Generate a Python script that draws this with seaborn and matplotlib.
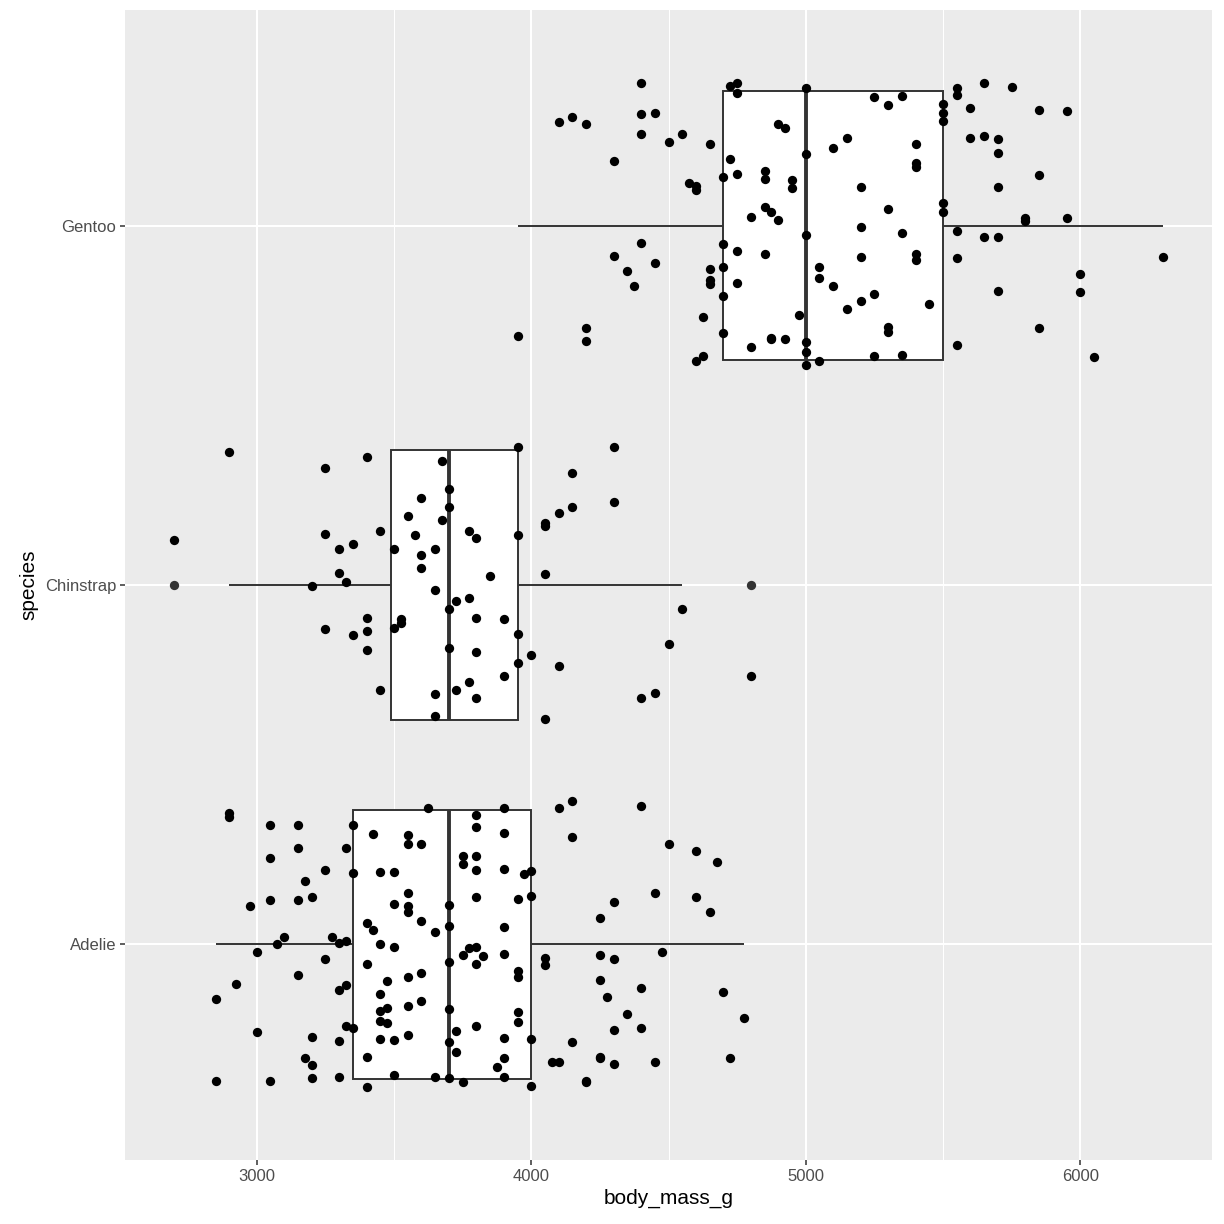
import numpy as np
import pandas as pd
import matplotlib
matplotlib.use("Agg")
import matplotlib.pyplot as plt
from matplotlib.ticker import MultipleLocator
import seaborn as sns

species_order = ["Gentoo", "Chinstrap", "Adelie"]

gentoo_mass = [
    4400, 4100, 4150, 4200, 4400, 4450, 4400, 4300, 4500, 4550,
    4650, 4725, 4750, 4750, 5000, 4725, 4700, 4750, 4575, 4600,
    4600, 4900, 4925, 5000, 4850, 4850, 4950, 4950, 4850, 4875,
    4800, 4900, 5100, 5250, 5300, 5350, 5500, 5500, 5500, 5550,
    5550, 5650, 5750, 5600, 5850, 5950, 5150, 5400, 5400, 5400,
    5600, 5650, 5700, 5700, 5850, 5700, 5200, 5300, 5500, 5500,
    5800, 5800, 5950, 4400, 4300, 4350, 4450, 4375, 3950, 4200,
    4200, 4700, 4750, 4850, 5000, 4650, 4700, 4650, 4650, 4750,
    4700, 4625, 4700, 4625, 4600, 4800, 4875, 4875, 4925, 4975,
    5000, 5000, 5000, 5050, 5050, 5050, 5100, 5200, 5350, 5200,
    5400, 5400, 5250, 5200, 5150, 5450, 5300, 5300, 5250, 5350,
    5550, 5650, 5700, 5550, 6300, 6000, 5700, 6000, 5850, 5550,
    6050,
]
gentoo_jitter = [
    -0.396, -0.289, -0.301, -0.283, -0.312, -0.313, -0.256, -0.179, -0.232, -0.254,
    -0.226, -0.388, -0.398, -0.368, -0.383, -0.186, -0.135, -0.145, -0.118, -0.111,
    -0.098, -0.284, -0.273, -0.199, -0.151, -0.129, -0.126, -0.105, -0.053, -0.037,
    -0.024, -0.016, -0.215, -0.359, -0.335, -0.360, -0.338, -0.313, -0.291, -0.384,
    -0.363, -0.398, -0.387, -0.326, -0.322, -0.319, -0.244, -0.226, -0.173, -0.163,
    -0.243, -0.250, -0.241, -0.201, -0.140, -0.107, -0.107, -0.045, -0.063, -0.038,
    -0.022, -0.012, -0.020, 0.048, 0.085, 0.125, 0.105, 0.168, 0.307, 0.284,
    0.321, 0.051, 0.071, 0.079, 0.027, 0.121, 0.116, 0.151, 0.163, 0.161,
    0.195, 0.254, 0.299, 0.362, 0.377, 0.338, 0.313, 0.316, 0.315, 0.249,
    0.324, 0.351, 0.387, 0.376, 0.116, 0.147, 0.167, 0.003, 0.021, 0.087,
    0.079, 0.097, 0.190, 0.211, 0.231, 0.218, 0.282, 0.296, 0.363, 0.360,
    0.016, 0.032, 0.032, 0.090, 0.086, 0.134, 0.182, 0.185, 0.286, 0.331,
    0.366,
]

chinstrap_mass = [
    2900, 2700, 3250, 3400, 3250, 3300, 3350, 3450, 3300, 3325,
    3200, 3250, 3350, 3400, 3400, 3400, 3450, 3500, 3675, 3700,
    3600, 3700, 3550, 3675, 3575, 3650, 3600, 3600, 3650, 3725,
    3700, 3525, 3525, 3500, 3700, 3650, 3650, 3725, 3950, 4300,
    4150, 4300, 4150, 4100, 4050, 4050, 3775, 3800, 3950, 3850,
    4050, 3775, 3800, 3900, 3950, 3800, 4000, 3950, 4100, 3900,
    3775, 3800, 4050, 4550, 4500, 4450, 4400, 4800,
]
chinstrap_jitter = [
    -0.371, -0.126, -0.326, -0.357, -0.143, -0.101, -0.114, -0.149, -0.033, -0.009,
    0.002, 0.123, 0.138, 0.092, 0.127, 0.181, 0.292, -0.100, -0.344, -0.268,
    -0.241, -0.218, -0.192, -0.181, -0.139, -0.100, -0.084, -0.047, 0.013, 0.045,
    0.066, 0.094, 0.106, 0.119, 0.174, 0.303, 0.365, 0.293, -0.385, -0.384,
    -0.312, -0.230, -0.218, -0.200, -0.172, -0.165, -0.151, -0.130, -0.138, -0.025,
    -0.031, 0.036, 0.093, 0.095, 0.137, 0.186, 0.196, 0.217, 0.226, 0.252,
    0.271, 0.315, 0.374, 0.067, 0.164, 0.301, 0.314, 0.252,
]

adelie_mass = [
    2900, 2900, 3050, 3150, 3350, 3150, 3325, 3050, 3250, 3175,
    2975, 3050, 3150, 3200, 3350, 3425, 3550, 3550, 3600, 3625,
    3450, 3500, 3550, 3500, 3550, 3550, 3600, 3650, 3700, 3700,
    3400, 3425, 3750, 3750, 3100, 3075, 3275, 3300, 3325, 3450,
    3500, 3900, 3800, 3800, 3900, 4100, 4150, 4400, 4150, 4500,
    4600, 4675, 3800, 3800, 3900, 3975, 4000, 3800, 3950, 4000,
    3900, 4300, 4250, 4450, 4600, 4650, 3775, 3800, 3000, 3250,
    3150, 2925, 2850, 3325, 3300, 3000, 3200, 3300, 3325, 3350,
    3175, 3200, 2850, 3050, 3200, 3300, 3400, 3400, 3475, 3550,
    3600, 3450, 3475, 3450, 3550, 3600, 3450, 3475, 3450, 3500,
    3550, 3400, 3500, 3650, 3700, 3700, 3750, 3700, 3725, 3700,
    3725, 3750, 3825, 3800, 3900, 3950, 3950, 3950, 3950, 3800,
    3900, 4000, 3900, 3875, 3900, 4000, 4050, 4050, 4250, 4300,
    4475, 4250, 4400, 4700, 4275, 4350, 4775, 4300, 4400, 4150,
    4075, 4100, 4250, 4250, 4300, 4450, 4725, 4200, 4200,
]
adelie_jitter = [
    -0.366, -0.355, -0.333, -0.333, -0.333, -0.269, -0.269, -0.241, -0.206, -0.177,
    -0.108, -0.124, -0.124, -0.133, -0.198, -0.308, -0.304, -0.278, -0.278, -0.379,
    -0.201, -0.202, -0.143, -0.111, -0.106, -0.090, -0.064, -0.035, -0.110, -0.050,
    -0.059, -0.041, -0.245, -0.224, -0.021, -0.001, -0.021, -0.004, -0.010, -0.001,
    0.006, -0.379, -0.360, -0.328, -0.310, -0.380, -0.398, -0.386, -0.298, -0.280,
    -0.260, -0.228, -0.245, -0.206, -0.211, -0.195, -0.204, -0.131, -0.127, -0.136,
    -0.048, -0.118, -0.073, -0.142, -0.131, -0.091, 0.011, 0.007, 0.022, 0.042,
    0.086, 0.111, 0.151, 0.112, 0.127, 0.245, 0.257, 0.268, 0.228, 0.234,
    0.316, 0.337, 0.379, 0.381, 0.373, 0.368, 0.397, 0.054, 0.102, 0.092,
    0.079, 0.138, 0.176, 0.186, 0.171, 0.158, 0.212, 0.220, 0.262, 0.265,
    0.252, 0.313, 0.363, 0.368, 0.371, 0.050, 0.030, 0.181, 0.240, 0.271,
    0.299, 0.383, 0.033, 0.055, 0.027, 0.074, 0.090, 0.188, 0.217, 0.227,
    0.261, 0.263, 0.317, 0.341, 0.370, 0.393, 0.037, 0.057, 0.029, 0.041,
    0.020, 0.100, 0.121, 0.133, 0.146, 0.193, 0.206, 0.239, 0.232, 0.273,
    0.328, 0.328, 0.312, 0.317, 0.333, 0.326, 0.317, 0.384, 0.380,
]

x_ticks = [3000, 4000, 5000, 6000]

# ---- build table ----
frames = []
for name, mass, jit in [("Gentoo", gentoo_mass, gentoo_jitter),
                        ("Chinstrap", chinstrap_mass, chinstrap_jitter),
                        ("Adelie", adelie_mass, adelie_jitter)]:
    idx = species_order.index(name)
    frames.append(pd.DataFrame({
        "species": name,
        "body_mass_g": mass,
        "ypos": idx + np.asarray(jit),
    }))
df = pd.concat(frames, ignore_index=True)

plt.rcParams["font.family"] = ["Liberation Sans", "DejaVu Sans"]

fig = plt.figure(figsize=(12.24, 12.24), dpi=100)
ax = fig.add_axes([125 / 1224, 1 - 1160 / 1224, (1212 - 125) / 1224, (1160 - 10) / 1224])
ax.set_facecolor("#EBEBEB")

edge = "#333333"
sns.boxplot(
    data=df, x="body_mass_g", y="species", order=species_order, ax=ax,
    width=0.75, color="white", saturation=1, linecolor=edge, linewidth=1.4,
    showcaps=False,
    flierprops=dict(marker="o", markersize=6.7, markerfacecolor=edge,
                    markeredgecolor=edge, markeredgewidth=0),
    medianprops=dict(color=edge, linewidth=2.8),
    zorder=2,
)
sns.scatterplot(data=df, x="body_mass_g", y="ypos", ax=ax, color="black",
                s=45, linewidth=0, legend=False, zorder=3)

ax.set_xlim(2520, 6480)
ax.set_ylim(2.6, -0.6)
ax.set_xticks(x_ticks)
ax.set_xticklabels([str(t) for t in x_ticks])
ax.xaxis.set_minor_locator(MultipleLocator(500))
ax.set_yticks(range(len(species_order)))
ax.set_yticklabels(species_order)

ax.set_axisbelow(True)
ax.grid(which="major", axis="both", color="white", linewidth=1.5, zorder=0)
ax.grid(which="minor", axis="x", color="white", linewidth=0.75, zorder=0)
for s in ax.spines.values():
    s.set_visible(False)

ax.tick_params(axis="both", which="major", length=3.7, width=1.1, color=edge,
               labelsize=12, labelcolor="#4D4D4D", pad=2.5)
ax.tick_params(axis="x", which="minor", length=0)

ax.set_xlabel("body_mass_g", fontsize=15, color="black", labelpad=4)
ax.set_ylabel("species", fontsize=15, color="black", labelpad=5)

fig.savefig("out.png", dpi=100, facecolor="white")
